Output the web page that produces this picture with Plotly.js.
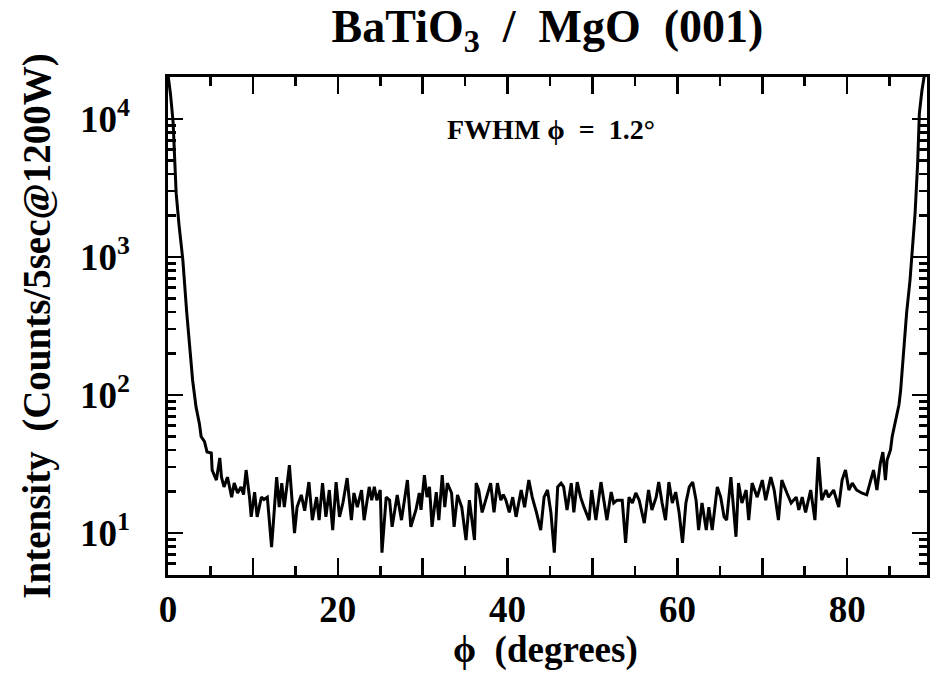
<!DOCTYPE html>
<html>
<head>
<meta charset="utf-8">
<script src="https://cdn.plot.ly/plotly-3.0.1.min.js"></script>
<style>html,body{margin:0;padding:0;background:#fff;}#chart{width:934px;height:675px;}</style>
</head>
<body>
<div id="chart"></div>
<script>
// phi scan positions (degrees)
const phi = [0.0,0.3,0.6,0.96,1.3,1.75,2.2,2.5,2.9,3.3,3.7,3.9,4.3,4.6,5.1,5.2,5.7,6.1,6.3,6.6,7.0,7.5,7.8,8.2,8.6,8.9,9.2,9.6,9.8,10.2,10.5,11.0,11.3,11.7,12.2,12.8,13.1,13.4,13.7,14.3,14.9,15.2,15.7,16.1,16.6,17.0,17.5,17.8,18.2,18.6,19.0,19.4,19.8,20.2,20.6,21.1,21.6,21.9,22.3,22.8,23.1,23.7,24.0,24.3,24.6,25.0,25.2,25.7,26.1,26.4,27.0,27.5,27.8,28.2,28.6,29.2,29.6,29.8,30.2,30.5,30.8,31.1,31.6,31.9,32.3,32.6,32.9,33.4,33.7,34.1,34.6,35.1,35.5,35.8,36.1,36.3,36.6,37.0,37.5,38.0,38.4,38.8,39.2,39.5,39.8,40.2,40.6,41.0,41.6,42.0,42.5,42.9,43.4,43.9,44.3,44.7,45.1,45.5,45.9,46.3,46.6,47.0,47.5,47.8,48.2,48.6,49.0,49.6,49.9,50.4,51.0,51.4,51.7,52.2,52.5,52.9,53.5,53.9,54.3,54.7,55.1,55.5,56.1,56.6,57.0,57.5,57.8,58.2,58.6,59.0,59.4,59.8,60.2,60.6,61.0,61.4,61.8,62.2,62.5,62.9,63.4,63.7,64.1,64.7,65.1,65.5,65.8,66.3,66.7,66.9,67.2,67.6,68.1,68.4,68.8,69.4,70.0,70.4,71.0,71.4,71.9,72.3,72.9,73.4,74.0,74.3,74.7,75.1,75.7,76.2,76.6,77.0,77.5,77.8,78.4,79.0,79.4,79.8,80.2,80.6,81.1,81.7,82.3,82.8,83.1,83.5,83.9,84.2,84.5,84.7,85.1,85.3,85.7,86.1,86.3,86.7,87.0,87.4,88.0,88.3,88.5,88.8,89.1];
// intensity (counts / 5 sec @ 1200 W)
const counts = [21000,15000,9500,2900,1700,950,400,250,128,82,62,50,46,38.6,38,28.6,24.2,35,25.4,21.6,25.4,18.2,23,19.5,21.6,19,28.6,18.2,13.1,19.8,13.1,18.2,17.5,18.2,7.9,25.4,15.4,23,15.4,31,10,15.4,18.9,14.5,23.4,12.4,18.2,12.4,23,13.1,20.5,10.5,23.4,13.1,16.5,25,12.4,19.5,15.4,20.5,12.4,21.6,17.3,21.6,17.3,20.5,7.2,18.2,17.3,11.1,18.9,12.4,16.5,24.2,11.1,14.7,19.5,14.7,26.3,18.2,21.6,11.1,19.8,12.4,26.3,15.4,23,19.5,11.1,18.9,15.4,8.9,17.3,12,8.9,23,20.5,14.1,18.2,23,14.1,23,17.3,19,17.3,14.1,18.2,13.1,20.5,15.4,24.2,18.2,14.1,10.5,18.2,20.5,14.1,7.2,21.6,23,21.6,14.7,23,14.1,23.4,18.2,15.4,12.4,20.5,12.4,23.4,16.5,12.4,19.8,16.5,17.3,17.3,8.5,18.2,16.5,19.5,17.3,11.8,20.5,14.7,18.2,23.4,16.5,12.4,23.4,16.5,19.8,14.1,8.5,16.5,21.6,23.4,17.3,10.5,16.5,10.5,15.4,10.5,21.6,18.2,13.1,12.4,25.4,12.4,9.4,23,16.5,20.5,12.4,23,18.2,24.2,17.3,25.4,20.5,12.4,24.2,19.5,16.5,18.2,14.7,18.2,14.1,20.5,12.4,35.5,17.3,20.5,18.2,20.5,15.4,24.2,28.6,20.5,23,20.5,19.5,18.9,24.2,28.6,20.5,32,38.6,24.2,33.8,40,50,65,85,109,223,393,680,2090,4800,11000,16000,21000];

const xTickVals = [0,10,20,30,40,50,60,70,80,90];
const xTickText = ['0','','20','','40','','60','','80',''];
const xMinorVals = [5,15,25,35,45,55,65,75,85];
const yTickVals = [10,100,1000,10000];
const yTickText = ['10<sup>1</sup>&nbsp;&nbsp;&nbsp;','10<sup>2</sup>&nbsp;&nbsp;&nbsp;','10<sup>3</sup>&nbsp;&nbsp;&nbsp;','10<sup>4</sup>&nbsp;&nbsp;&nbsp;'];
const yMinorVals = [];
[1,10,100,1000,10000].forEach(d => { for (let k = 2; k <= 9; k++) yMinorVals.push(k*d); });

const F = 'Liberation Serif, Times New Roman, serif';

const layout = {
  width: 934, height: 675,
  margin: {l: 168, r: 7, t: 77, b: 100},
  paper_bgcolor: '#fff', plot_bgcolor: '#fff',
  title: {
    text: 'BaTiO<sub>3</sub>&nbsp;&nbsp;/&nbsp;&nbsp;MgO&nbsp;&nbsp;(001)',
    font: {family: F, size: 46, color: '#000', weight: 700},
    x: 0.5, xref: 'paper', xanchor: 'center', y: 0.985, yanchor: 'top'
  },
  xaxis: {
    range: [0, 89.4], tickmode: 'array', tickvals: xTickVals, ticktext: xTickText,
    ticks: 'inside', ticklen: 17, tickwidth: 2.5, tickcolor: 'black',
    minor: {tickvals: xMinorVals, ticks: 'inside', ticklen: 9, tickwidth: 2.5, tickcolor: 'black'},
    showline: true, linewidth: 3, linecolor: '#000', mirror: 'ticks',
    showgrid: false, zeroline: false,
    tickfont: {family: F, size: 37, color: '#000', weight: 700}
  },
  yaxis: {
    type: 'log', range: [0.696, 4.304], tickmode: 'array', tickvals: yTickVals, ticktext: yTickText,
    ticks: 'inside', ticklen: 15, tickwidth: 2.5, tickcolor: 'black',
    minor: {tickvals: yMinorVals, ticks: 'inside', ticklen: 8, tickwidth: 2.5, tickcolor: 'black'},
    showline: true, linewidth: 3, linecolor: '#000', mirror: 'ticks',
    showgrid: false, zeroline: false,
    tickfont: {family: F, size: 37, color: '#000', weight: 700}
  },
  annotations: [
    {text: 'ϕ&nbsp;&nbsp;(degrees)', xref: 'paper', yref: 'paper', x: 0.497, y: -0.151,
     xanchor: 'center', yanchor: 'middle', showarrow: false,
     font: {family: F, size: 37, color: '#000', weight: 700}},
    {text: 'Intensity&nbsp;&nbsp;(Counts/5sec@1200W)', xref: 'paper', yref: 'paper', x: -0.173, y: 0.5,
     xanchor: 'center', yanchor: 'middle', textangle: -90, showarrow: false,
     font: {family: F, size: 39, color: '#000', weight: 700}},
    {text: 'FWHM&nbsp;ϕ&nbsp;&nbsp;=&nbsp;&nbsp;1.2°', xref: 'paper', yref: 'paper', x: 0.505, y: 0.894,
     xanchor: 'center', yanchor: 'middle', showarrow: false,
     font: {family: F, size: 28, color: '#000', weight: 700}}
  ]
};
Plotly.newPlot('chart', [{x: phi, y: counts, type: 'scatter', mode: 'lines', line: {color: '#000', width: 3}}], layout, {staticPlot: true});
</script>
</body>
</html>
